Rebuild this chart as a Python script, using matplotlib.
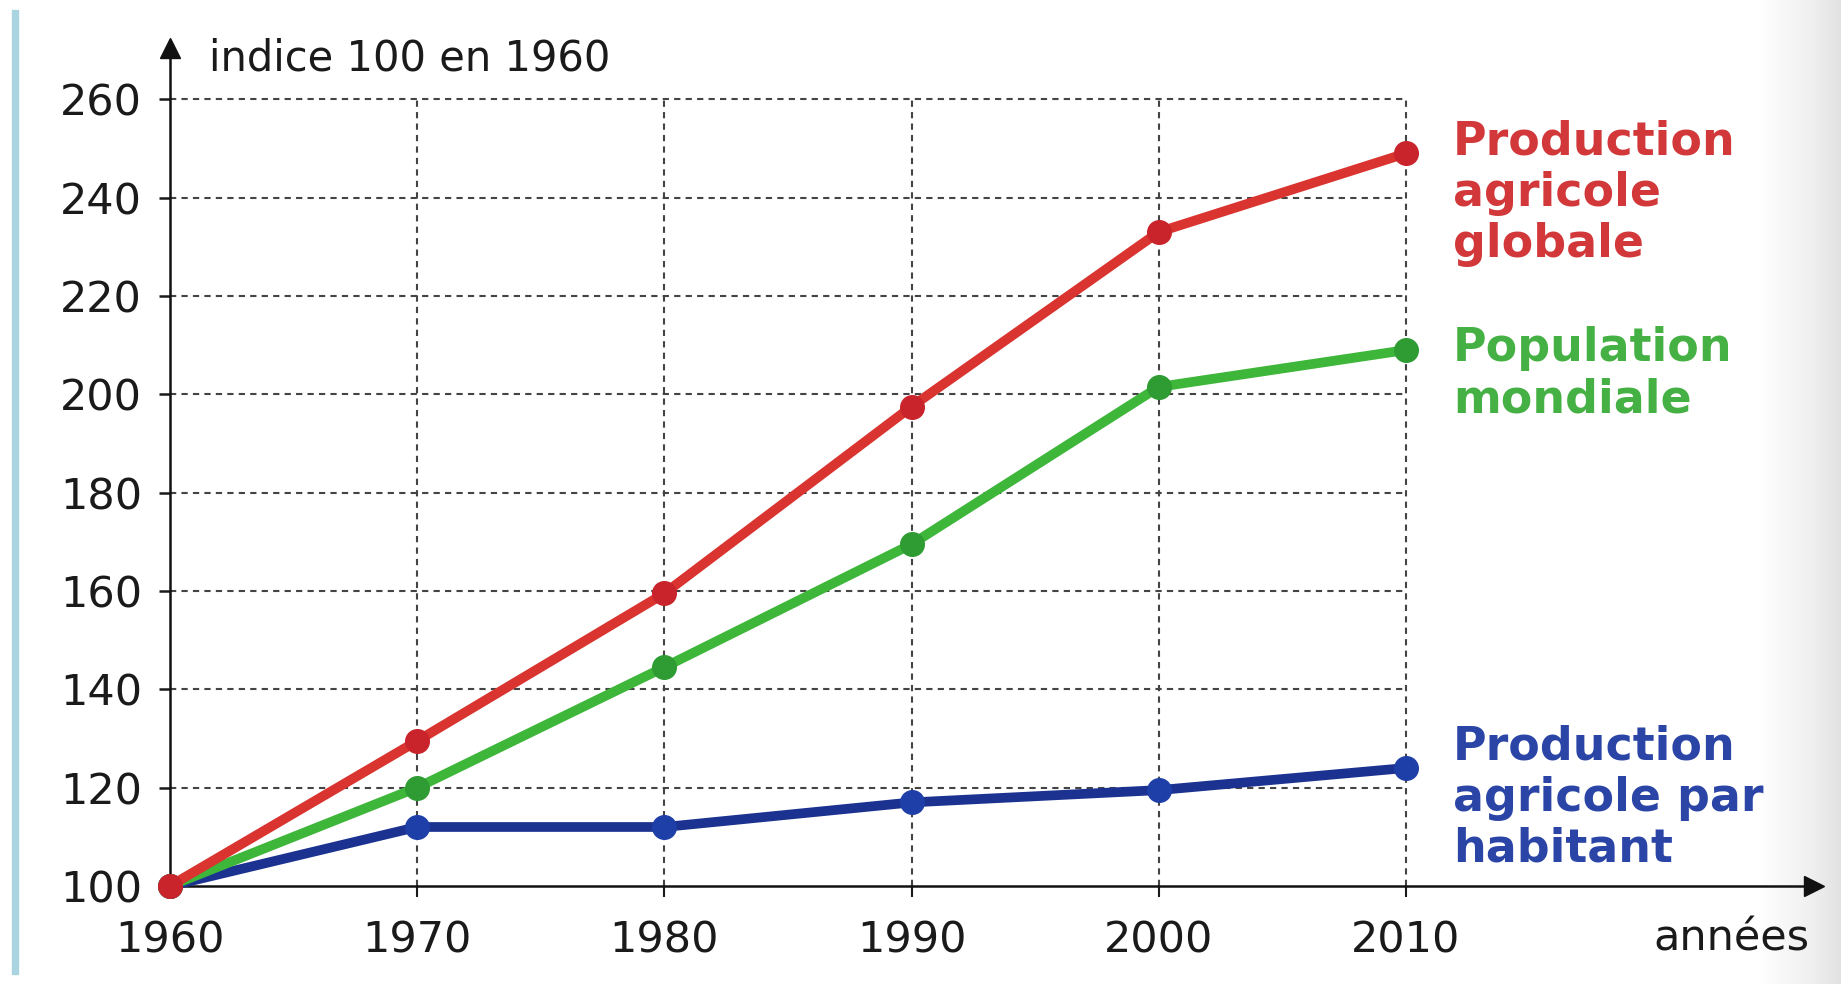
import numpy as np
import matplotlib.pyplot as plt
from matplotlib.patches import Rectangle

# data (indice 100 en 1960)
years = [1960, 1970, 1980, 1990, 2000, 2010]
prod_globale = [100, 129.5, 159.5, 197.5, 233, 249]
population = [100, 120, 144.5, 169.5, 201.5, 209]
prod_habitant = [100, 112, 112, 117, 119.5, 124]
y_ticks = [100, 120, 140, 160, 180, 200, 220, 240, 260]

label_globale = "Production\nagricole\nglobale"
label_population = "Population\nmondiale"
label_habitant = "Production\nagricole par\nhabitant"

plt.rcParams['font.family'] = ['DejaVu Sans']

fig = plt.figure(figsize=(18.41, 9.84), dpi=100)
fig.patch.set_facecolor('white')

# scan look: light blue strip on the left, grey shade on the right
fig.patches.append(Rectangle((0.0065, 0.01), 0.0035, 0.98, transform=fig.transFigure,
                             color='#a9d4e0', zorder=0))
bg = fig.add_axes([0.955, 0, 0.045, 1], zorder=-1)
grad = np.linspace(1, 0, 200).reshape(1, -1)
bg.imshow(grad, aspect='auto', cmap='Greys_r', vmin=-4, vmax=1, extent=[0, 1, 0, 1])
bg.axis('off')

ax = fig.add_axes([0.0923, 0.0996, 0.893, 0.852])
ax.set_facecolor('none')
ax.set_xlim(1960, 2026.5)
ax.set_ylim(100, 270.5)

# dashed grid limited to the data box
for yv in y_ticks[1:]:
    ax.plot([1960, 2010], [yv, yv], color='#444444', lw=1.5, ls=(0, (3, 2.5)), zorder=1)
for xv in years[1:]:
    ax.plot([xv, xv], [100, 260], color='#444444', lw=1.5, ls=(0, (3, 2.5)), zorder=1)

# series
ax.plot(years, prod_habitant, color='#1c3290', lw=7, marker='o', ms=17,
        markerfacecolor='#1f3fa8', markeredgecolor='#1f3fa8', zorder=3, clip_on=False)
ax.plot(years, population, color='#3db63a', lw=7, marker='o', ms=17,
        markerfacecolor='#2f9c33', markeredgecolor='#2f9c33', zorder=4, clip_on=False)
ax.plot(years, prod_globale, color='#d9342f', lw=7, marker='o', ms=17,
        markerfacecolor='#c9232b', markeredgecolor='#c9232b', zorder=5, clip_on=False)

# series labels
ax.text(2011.9, 255.8, label_globale, color='#d2383a', fontsize=33, fontweight='bold',
        ha='left', va='top', linespacing=1.17)
ax.text(2011.9, 213.8, label_population, color='#45b043', fontsize=33, fontweight='bold',
        ha='left', va='top', linespacing=1.17)
ax.text(2011.9, 132.8, label_habitant, color='#2b45a6', fontsize=33, fontweight='bold',
        ha='left', va='top', linespacing=1.17)

# axes with arrows
for side in ['top', 'right']:
    ax.spines[side].set_visible(False)
for side in ['left', 'bottom']:
    ax.spines[side].set_linewidth(1.8)
    ax.spines[side].set_color('#111111')
ax.plot(1, 0, '>', color='#111111', ms=14, transform=ax.transAxes, clip_on=False)
ax.plot(0, 1, '^', color='#111111', ms=14, transform=ax.transAxes, clip_on=False)

ax.set_xticks(years)
ax.set_yticks(y_ticks)
ax.tick_params(axis='y', length=8, width=1.8, pad=12, labelsize=31, colors='#1a1a1a')
ax.tick_params(axis='x', length=8, width=1.5, pad=16, labelsize=31, colors='#1a1a1a')

ax.text(1961.6, 268.3, "indice 100 en 1960", fontsize=30, color='#1a1a1a',
        ha='left', va='center')
ax.text(0.997, -0.063, "années", fontsize=31, color='#1a1a1a', ha='right', va='center',
        transform=ax.transAxes)

fig.savefig('out.png', dpi=100)
